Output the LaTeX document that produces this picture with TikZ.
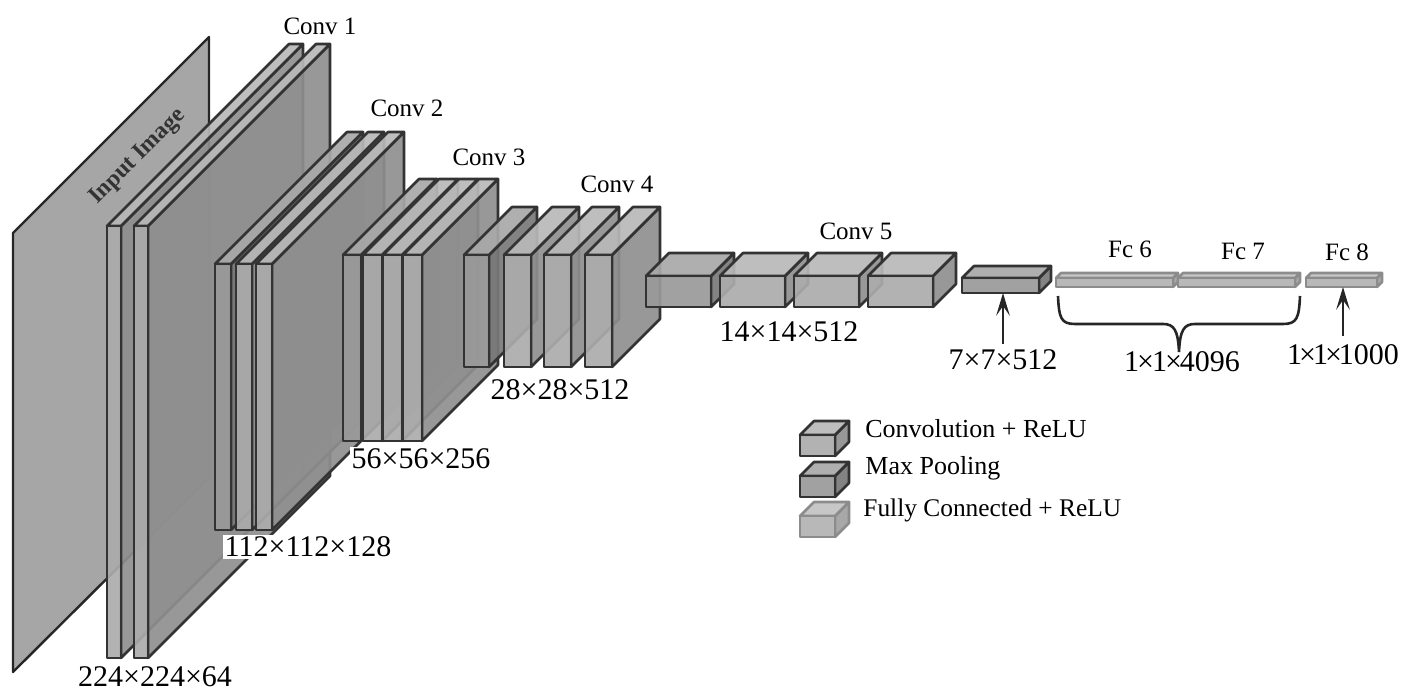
\documentclass[tikz,border=0pt]{standalone}
\usepackage{fontspec}
\setmainfont{Liberation Serif}
\usetikzlibrary{arrows.meta,positioning,calc}

% box: name, kind, left, top of the front face, width, height, depth
\newcommand{\layerbox}[7]{
  \draw[#2, fill=#2side] (#3+#5,#4) -- (#3+#5+#7,#4-#7) -- (#3+#5+#7,#4+#6-#7) -- (#3+#5,#4+#6) -- cycle;
  \draw[#2, fill=#2top] (#3,#4) -- (#3+#7,#4-#7) -- (#3+#5+#7,#4-#7) -- (#3+#5,#4) -- cycle;
  \draw[#2, fill=#2front] (#3,#4) rectangle (#3+#5,#4+#6);
  \coordinate (#1) at (#3+#5/2,#4+#6);
}

\definecolor{cvtop}{gray}{0.72}
\definecolor{cvfront}{gray}{0.67}
\definecolor{cvside}{gray}{0.56}
\definecolor{pltop}{gray}{0.66}
\definecolor{plfront}{gray}{0.60}
\definecolor{plside}{gray}{0.47}
\definecolor{fctop}{gray}{0.78}
\definecolor{fcfront}{gray}{0.72}
\definecolor{fcside}{gray}{0.66}

\begin{document}
\begin{tikzpicture}[x=0.5pt, y=-0.5pt,
  cv/.style={draw=black!80, line width=1.3pt, line join=round, fill opacity=0.92},
  pl/.style={cv},
  fc/.style={draw=black!45, line width=1.3pt, line join=round},
  sz/.style={font=\fontsize{15}{15}\selectfont, inner sep=1pt},
  ttl/.style={font=\fontsize{12.5}{12.5}\selectfont, inner sep=1pt},
  lgd/.style={font=\fontsize{13}{13}\selectfont, anchor=west, inner sep=0pt},
  arr/.style={-{Stealth[length=4mm, width=2.4mm, inset=1.7mm]}, line width=1.1pt, black!85, shorten <=2pt},
  brc/.style={line width=1.3pt, black!85}]
\useasboundingbox (0,0) rectangle (1410,694);

% input image
\draw[draw=black!85, line width=1.2pt, line join=round, fill=black!37, fill opacity=0.95]
  (13,233) -- (209,37) -- (209,477) -- (13,672) -- cycle;
\node[font=\fontsize{11.8}{12}\selectfont\bfseries, rotate=45, inner sep=0pt, text=black!80] (input) at (138,157) {Input Image};

% conv 1 to conv 4
\foreach \x in {107,134}{\layerbox{one\x}{cv}{\x}{226}{14}{432}{182}}
\layerbox{two1}{pl}{215}{264}{16}{266}{132}
\foreach \x in {236,256}{\layerbox{two\x}{cv}{\x}{264}{16}{266}{132}}
\layerbox{three1}{pl}{343}{255}{18}{186}{76}
\foreach \x in {363,383,403}{\layerbox{three\x}{cv}{\x}{255}{19}{186}{76}}
\layerbox{four1}{pl}{464}{255}{25}{112}{48}
\foreach \x in {504,544,585}{\layerbox{four\x}{cv}{\x}{255}{27}{112}{48}}

% conv 5, pooling, fully connected
\layerbox{five1}{pl}{646}{276}{65}{31}{23}
\foreach \x in {720,794,868}{\layerbox{five\x}{cv}{\x}{276}{65}{31}{23}}
\layerbox{pool}{pl}{962}{278}{77}{15}{12}
\layerbox{six}{fc}{1056}{278}{117}{9}{5}
\layerbox{seven}{fc}{1178}{278}{117}{9}{5}
\layerbox{eight}{fc}{1306}{278}{71}{9}{5}

% titles
\node[ttl] (t1) at (320,26) {Conv 1};
\node[ttl] (t2) at (407,108) {Conv 2};
\node[ttl] (t3) at (489,157) {Conv 3};
\node[ttl] (t4) at (617,184) {Conv 4};
\node[ttl] (t5) at (856,231) {Conv 5};
\node[ttl] (t6) at (1130,249) {Fc 6};
\node[ttl] (t7) at (1243,251) {Fc 7};
\node[ttl] (t8) at (1347,252) {Fc 8};

% sizes
\node[sz] (s1) at (155,677) {224×224×64};
\node[sz, fill=white] (s2) at (308,547) {112×112×128};
\node[sz, fill=white] (s3) at (421,459) {56×56×256};
\node[sz] (s4) at (560,390) {28×28×512};
\node[sz] (s5) at (789,332) {14×14×512};
\node[sz] (s6) at (1003,360) {7×7×512};
\node[sz] (s7) at (1182,362) {1\kern-1pt×\kern-1pt1\kern-1pt×\kern-1pt4096};
\node[sz] (s8) at (1343,355) {1\kern-1.5pt×\kern-1.5pt1\kern-1.5pt×\kern-1.5pt1000};

\draw[arr] (s6.north) -- (s6.north |- pool);
\draw[arr, shorten <=3pt] (s8.north) -- (s8.north |- eight);
\coordinate (bl) at (1058,296);
\coordinate (bm) at (1179,352);
\coordinate (br) at (1300,296);
\draw[brc] (bl) .. controls (1059,318) and (1061,324) .. (1075,324) -- (1163,324)
  .. controls (1174,324) and (1178,330) .. (bm)
  .. controls (1180,330) and (1184,324) .. (1195,324) -- (1283,324)
  .. controls (1297,324) and (1299,318) .. (br);

% legend
\layerbox{lg1}{cv}{800}{435}{35}{21}{14}
\layerbox{lg2}{pl}{800}{476}{35}{21}{14}
\layerbox{lg3}{fc}{800}{516}{35}{21}{14}
\node[lgd] (l1) at (865,429) {Convolution + ReLU};
\node[lgd] (l2) at (865,468) {Max Pooling};
\node[lgd, font=\fontsize{12.7}{13}\selectfont] (l3) at (863,510) {Fully Connected + ReLU};
\end{tikzpicture}
\end{document}
